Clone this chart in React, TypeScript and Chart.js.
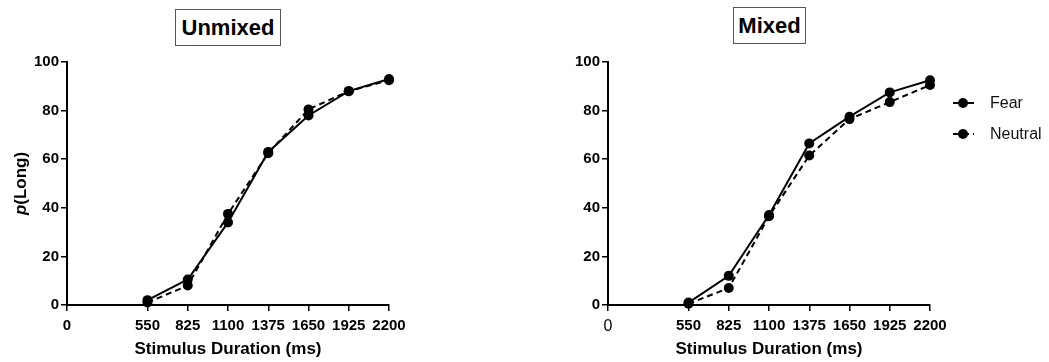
import React, { useEffect, useRef } from "react";
import { Chart, registerables } from "chart.js";

Chart.register(...registerables);

const durations = [550, 825, 1100, 1375, 1650, 1925, 2200];
const xTickValues = [0, 550, 825, 1100, 1375, 1650, 1925, 2200];
const yTickValues = [0, 20, 40, 60, 80, 100];

const unmixedFear = [2, 10.5, 34, 63, 78, 88, 93];
const unmixedNeutral = [1, 8, 37.5, 62.5, 80.5, 88, 92.5];
const mixedFear = [1, 12, 37, 66.5, 77.5, 87.5, 92.5];
const mixedNeutral = [0.5, 7, 36.5, 61.5, 76.5, 83.5, 90.5];

const seriesLabels = ["Fear", "Neutral"];
const panelTitles = ["Unmixed", "Mixed"];
const xTitle = "Stimulus Duration (ms)";

const FONT = "'Liberation Sans', Arial, sans-serif";

function makeDataset(label: string, values: number[], dashed: boolean) {
  return {
    label,
    data: durations.map((x, i) => ({ x, y: values[i] })),
    borderColor: "#000",
    backgroundColor: "#000",
    borderWidth: 2,
    borderDash: dashed ? [6, 4] : [],
    pointRadius: 5,
    pointHoverRadius: 5,
    pointBackgroundColor: "#000",
    pointBorderColor: "#000",
    pointBorderWidth: 0,
    tension: 0,
    clip: false as const,
  };
}

function buildOptions(opts: {
  padLeft: number;
  yWidth: number;
  padRight: number;
  zeroNormal: boolean;
}) {
  return {
    animation: false as const,
    responsive: false,
    maintainAspectRatio: false,
    layout: {
      padding: { left: opts.padLeft, right: opts.padRight, top: 62, bottom: 0 },
    },
    plugins: {
      legend: { display: false },
      title: { display: false },
      tooltip: { enabled: false },
    },
    scales: {
      x: {
        type: "linear" as const,
        min: 0,
        max: 2200,
        afterBuildTicks: (scale: any) => {
          scale.ticks = xTickValues.map((v) => ({ value: v }));
        },
        afterFit: (scale: any) => {
          scale.height = 57;
        },
        border: { display: true, color: "#000", width: 2 },
        grid: {
          display: true,
          drawOnChartArea: false,
          drawTicks: true,
          tickLength: 6,
          color: "#000",
          lineWidth: 1.5,
        },
        ticks: {
          autoSkip: false,
          maxRotation: 0,
          minRotation: 0,
          padding: 6,
          color: "#000",
          font: (ctx: any) =>
            opts.zeroNormal && ctx.tick && ctx.tick.value === 0
              ? { family: FONT, size: 16, weight: "normal" }
              : { family: FONT, size: 15, weight: "bold" },
          callback: (v: any) => String(v),
        },
        title: {
          display: true,
          text: xTitle,
          color: "#000",
          font: { family: FONT, size: 17, weight: "bold" },
          padding: { top: 2, bottom: 2 },
        },
      },
      y: {
        type: "linear" as const,
        min: 0,
        max: 100,
        afterBuildTicks: (scale: any) => {
          scale.ticks = yTickValues.map((v) => ({ value: v }));
        },
        afterFit: (scale: any) => {
          scale.width = opts.yWidth;
        },
        border: { display: true, color: "#000", width: 2 },
        grid: {
          display: true,
          drawOnChartArea: false,
          drawTicks: true,
          tickLength: 6,
          color: "#000",
          lineWidth: 1.5,
        },
        ticks: {
          padding: 2,
          color: "#000",
          font: { family: FONT, size: 15, weight: "bold" },
        },
      },
    },
  };
}

const yTitlePlugin = {
  id: "yTitleMixed",
  afterDraw(chart: any) {
    const { ctx, chartArea } = chart;
    const cy = (chartArea.top + chartArea.bottom) / 2;
    ctx.save();
    ctx.translate(21, cy);
    ctx.rotate(-Math.PI / 2);
    ctx.fillStyle = "#000";
    ctx.textBaseline = "middle";
    const italic = `italic bold 17px ${FONT}`;
    const bold = `bold 17px ${FONT}`;
    ctx.font = italic;
    const w1 = ctx.measureText("p").width;
    ctx.font = bold;
    const w2 = ctx.measureText("(Long)").width;
    const start = -(w1 + w2) / 2;
    ctx.font = italic;
    ctx.textAlign = "left";
    ctx.fillText("p", start, 0);
    ctx.font = bold;
    ctx.fillText("(Long)", start + w1, 0);
    ctx.restore();
  },
};

const legendPlugin = {
  id: "lineLegend",
  afterDraw(chart: any) {
    const { ctx, chartArea } = chart;
    const x0 = chartArea.right + 23;
    chart.data.datasets.forEach((ds: any, i: number) => {
      const y = 103 + i * 31;
      ctx.save();
      ctx.strokeStyle = ds.borderColor;
      ctx.lineWidth = 2;
      ctx.setLineDash(ds.borderDash || []);
      ctx.beginPath();
      ctx.moveTo(x0, y);
      ctx.lineTo(x0 + 21, y);
      ctx.stroke();
      ctx.setLineDash([]);
      ctx.fillStyle = ds.pointBackgroundColor;
      ctx.beginPath();
      ctx.arc(x0 + 10, y, 5, 0, Math.PI * 2);
      ctx.fill();
      ctx.fillStyle = "#111";
      ctx.font = `16px ${FONT}`;
      ctx.textBaseline = "middle";
      ctx.textAlign = "left";
      ctx.fillText(ds.label, x0 + 37, y + 1);
      ctx.restore();
    });
  },
};

function Panel(props: {
  left: number;
  width: number;
  fear: number[];
  neutral: number[];
  padLeft: number;
  yWidth: number;
  padRight: number;
  zeroNormal: boolean;
  plugins: any[];
}) {
  const ref = useRef<HTMLCanvasElement | null>(null);
  useEffect(() => {
    if (!ref.current) return;
    const chart = new Chart(ref.current, {
      type: "line",
      data: {
        datasets: [
          makeDataset(seriesLabels[0], props.fear, false),
          makeDataset(seriesLabels[1], props.neutral, true),
        ],
      },
      options: buildOptions({
        padLeft: props.padLeft,
        yWidth: props.yWidth,
        padRight: props.padRight,
        zeroNormal: props.zeroNormal,
      }) as any,
      plugins: props.plugins,
    });
    return () => chart.destroy();
  }, []);
  return (
    <canvas
      ref={ref}
      width={props.width}
      height={362}
      style={{
        position: "absolute",
        left: props.left,
        top: 0,
        width: props.width,
        height: 362,
      }}
    />
  );
}

const boxStyle: React.CSSProperties = {
  position: "absolute",
  border: "1px solid #555",
  boxSizing: "border-box",
  display: "flex",
  alignItems: "center",
  justifyContent: "center",
  fontFamily: FONT,
  fontWeight: "bold",
  fontSize: 22,
  color: "#000",
  background: "#fff",
};

export default function App() {
  return (
    <div
      style={{
        position: "absolute",
        left: 0,
        top: 0,
        width: 1049,
        height: 362,
        background: "#fff",
        overflow: "hidden",
      }}
    >
      <Panel
        left={0}
        width={520}
        fear={unmixedFear}
        neutral={unmixedNeutral}
        padLeft={0}
        yWidth={67}
        padRight={131}
        zeroNormal={false}
        plugins={[yTitlePlugin]}
      />
      <Panel
        left={520}
        width={529}
        fear={mixedFear}
        neutral={mixedNeutral}
        padLeft={0}
        yWidth={88}
        padRight={119}
        zeroNormal={true}
        plugins={[legendPlugin]}
      />
      <div style={{ ...boxStyle, left: 175, top: 9, width: 106, height: 37 }}>
        {panelTitles[0]}
      </div>
      <div style={{ ...boxStyle, left: 733, top: 7, width: 73, height: 37 }}>
        {panelTitles[1]}
      </div>
    </div>
  );
}
